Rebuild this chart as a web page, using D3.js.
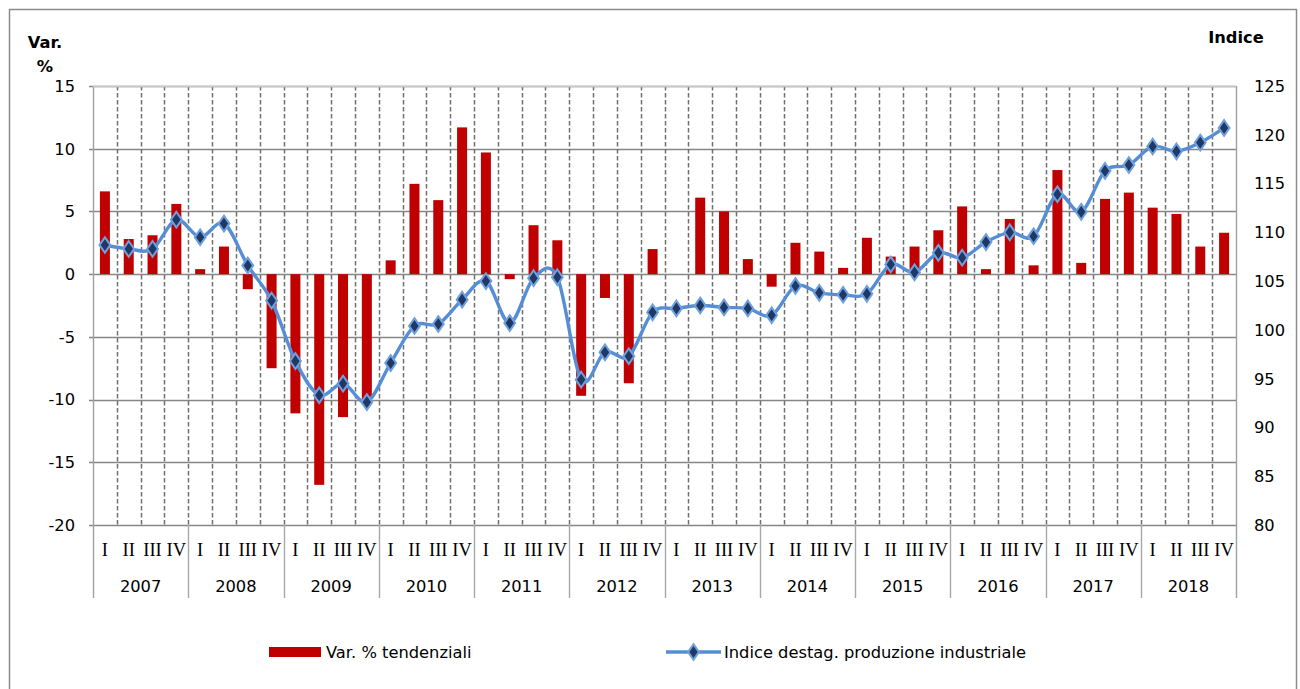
<!DOCTYPE html>
<html>
<head>
<meta charset="utf-8">
<script src="https://cdn.jsdelivr.net/npm/d3@7"></script>
<style>
  html, body { margin: 0; padding: 0; background: #fff; }
  svg { display: block; }
</style>
</head>
<body>
<svg id="chart" width="1300" height="689"></svg>
<script>
const years = ["2007","2008","2009","2010","2011","2012","2013","2014","2015","2016","2017","2018"];
const quarters = ["I","II","III","IV"];
const varPct = [
  6.6, 2.8, 3.1, 5.6,
  0.4, 2.2, -1.2, -7.5,
  -11.1, -16.8, -11.4, -10.4,
  1.1, 7.2, 5.9, 11.7,
  9.7, -0.4, 3.9, 2.7,
  -9.7, -1.9, -8.7, 2.0,
  0.0, 6.1, 5.0, 1.2,
  -1.0, 2.5, 1.8, 0.5,
  2.9, 1.4, 2.2, 3.5,
  5.4, 0.4, 4.4, 0.7,
  8.3, 0.9, 6.0, 6.5,
  5.3, 4.8, 2.2, 3.3
];
const indice = [
  108.7, 108.3, 108.3, 111.3,
  109.5, 110.9, 106.6, 103.0,
  96.8, 93.3, 94.5, 92.6,
  96.6, 100.4, 100.6, 103.1,
  105.0, 100.7, 105.3, 105.4,
  94.9, 97.7, 97.3, 101.8,
  102.2, 102.5, 102.3, 102.2,
  101.5, 104.5, 103.8, 103.6,
  103.7, 106.7, 105.9, 107.9,
  107.4, 109.0, 110.0, 109.6,
  113.9, 112.1, 116.3, 116.9,
  118.8, 118.3, 119.2, 120.7
];
const leftTicks = [-20, -15, -10, -5, 0, 5, 10, 15];
const rightTicks = [80, 85, 90, 95, 100, 105, 110, 115, 120, 125];
const seriesNames = ["Var. % tendenziali", "Indice destag. produzione industriale"];

const keys = [];
years.forEach(y => quarters.forEach(q => keys.push(y + "-" + q)));
const data = keys.map((k, i) => ({key: k, year: k.split("-")[0], q: k.split("-")[1], v: varPct[i], idx: indice[i]}));

const svg = d3.select("#chart");
const L = 93, R = 1236, T = 86, B = 525;
const sans = "'DejaVu Sans', Tahoma, Verdana, sans-serif";
const serif = "'Liberation Serif', 'Times New Roman', serif";
const gridCol = "#868686";
const fs = 16.3;

// outer frame
svg.append("rect").attr("x", 9.5).attr("y", 9.5).attr("width", 1287).attr("height", 700)
  .attr("fill", "none").attr("stroke", "#8c8c8c").attr("stroke-width", 1.5);

const x = d3.scaleBand().domain(keys).range([L, R]).padding(0);
const yL = d3.scaleLinear().domain([-20, 15]).range([B, T]);
const yR = d3.scaleLinear().domain([80, 125]).range([B, T]);
const bw = x.bandwidth();

// horizontal gridlines
svg.append("g").selectAll("line").data(leftTicks).join("line")
  .attr("x1", L - 4).attr("x2", R)
  .attr("y1", d => Math.round(yL(d)) + 0.5).attr("y2", d => Math.round(yL(d)) + 0.5)
  .attr("stroke", gridCol).attr("stroke-width", 1.5);

// vertical dashed gridlines at quarter boundaries
svg.append("g").selectAll("line").data(keys.slice(1)).join("line")
  .attr("x1", d => Math.round(x(d)) + 0.5).attr("x2", d => Math.round(x(d)) + 0.5)
  .attr("y1", T).attr("y2", B)
  .attr("stroke", "#707070").attr("stroke-width", 1.5).attr("stroke-dasharray", "4.5,2.5");

// plot borders
svg.append("line").attr("x1", L + 0.5).attr("x2", L + 0.5).attr("y1", T).attr("y2", 598)
  .attr("stroke", "#a0a0a0").attr("stroke-width", 1.4);
svg.append("line").attr("x1", R + 0.5).attr("x2", R + 0.5).attr("y1", T).attr("y2", 598)
  .attr("stroke", "#a0a0a0").attr("stroke-width", 1.4);
svg.append("line").attr("x1", L).attr("x2", R).attr("y1", T + 0.5).attr("y2", T + 0.5)
  .attr("stroke", "#c8c8c8").attr("stroke-width", 1.4);

// year separators below axis
svg.append("g").selectAll("line").data(years.slice(1)).join("line")
  .attr("x1", d => Math.round(x(d + "-I")) + 0.5).attr("x2", d => Math.round(x(d + "-I")) + 0.5)
  .attr("y1", B).attr("y2", 598)
  .attr("stroke", "#a8a8a8").attr("stroke-width", 1.4);

// bars
const barW = 10;
svg.append("g").selectAll("rect").data(data).join("rect")
  .attr("x", d => x(d.key) + bw / 2 - barW / 2)
  .attr("width", barW)
  .attr("y", d => Math.min(yL(d.v), yL(0)))
  .attr("height", d => Math.abs(yL(d.v) - yL(0)))
  .attr("fill", "#C00000");

// line
const line = d3.line().x(d => x(d.key) + bw / 2).y(d => yR(d.idx)).curve(d3.curveCardinal.tension(0));
svg.append("path").datum(data).attr("d", line)
  .attr("fill", "none").attr("stroke", "#558ED5").attr("stroke-width", 3.4);

const diamond = d3.symbol().type(d3.symbolDiamond).size(70);
svg.append("g").selectAll("path").data(data).join("path")
  .attr("d", diamond)
  .attr("transform", d => `translate(${x(d.key) + bw / 2},${yR(d.idx)}) scale(1.2,1)`)
  .attr("fill", "#1F3864").attr("stroke", "#6FA0DE").attr("stroke-width", 1.8);

// left axis labels
svg.append("g").selectAll("text").data(leftTicks).join("text")
  .attr("x", 75).attr("y", d => yL(d)).attr("dy", "0.36em")
  .attr("text-anchor", "end").attr("font-family", sans).attr("font-size", fs).attr("fill", "#000")
  .text(d => d);

// right axis labels
svg.append("g").selectAll("text").data(rightTicks).join("text")
  .attr("x", 1254).attr("y", d => yR(d)).attr("dy", "0.36em")
  .attr("text-anchor", "start").attr("font-family", sans).attr("font-size", fs).attr("fill", "#000")
  .text(d => d);

// axis titles
svg.append("text").attr("x", 45).attr("y", 48).attr("text-anchor", "middle")
  .attr("font-family", sans).attr("font-weight", "bold").attr("font-size", fs).text("Var.");
svg.append("text").attr("x", 45).attr("y", 72).attr("text-anchor", "middle")
  .attr("font-family", sans).attr("font-weight", "bold").attr("font-size", fs).text("%");
svg.append("text").attr("x", 1236).attr("y", 43).attr("text-anchor", "middle")
  .attr("font-family", sans).attr("font-weight", "bold").attr("font-size", fs).text("Indice");

// quarter labels
svg.append("g").selectAll("text").data(data).join("text")
  .attr("x", d => x(d.key) + bw / 2).attr("y", 550).attr("dy", "0.35em")
  .attr("text-anchor", "middle").attr("font-family", serif).attr("font-size", 18.5).attr("fill", "#000")
  .text(d => d.q);

// year labels
svg.append("g").selectAll("text").data(years).join("text")
  .attr("x", d => x(d + "-I") + bw * 2).attr("y", 586).attr("dy", "0.36em")
  .attr("text-anchor", "middle").attr("font-family", sans).attr("font-size", fs).attr("fill", "#000")
  .text(d => d);

// legend
const lg = svg.append("g");
lg.append("rect").attr("x", 269).attr("y", 647).attr("width", 52).attr("height", 10).attr("fill", "#C00000");
lg.append("text").attr("x", 326).attr("y", 652).attr("dy", "0.36em")
  .attr("font-family", sans).attr("font-size", fs).text(seriesNames[0]);
lg.append("line").attr("x1", 666).attr("x2", 721).attr("y1", 652).attr("y2", 652)
  .attr("stroke", "#558ED5").attr("stroke-width", 3.4);
lg.append("path").attr("d", diamond).attr("transform", "translate(693.5,652) scale(1.2,1)")
  .attr("fill", "#1F3864").attr("stroke", "#6FA0DE").attr("stroke-width", 1.8);
lg.append("text").attr("x", 724).attr("y", 652).attr("dy", "0.36em")
  .attr("font-family", sans).attr("font-size", fs).text(seriesNames[1]);
</script>
</body>
</html>
